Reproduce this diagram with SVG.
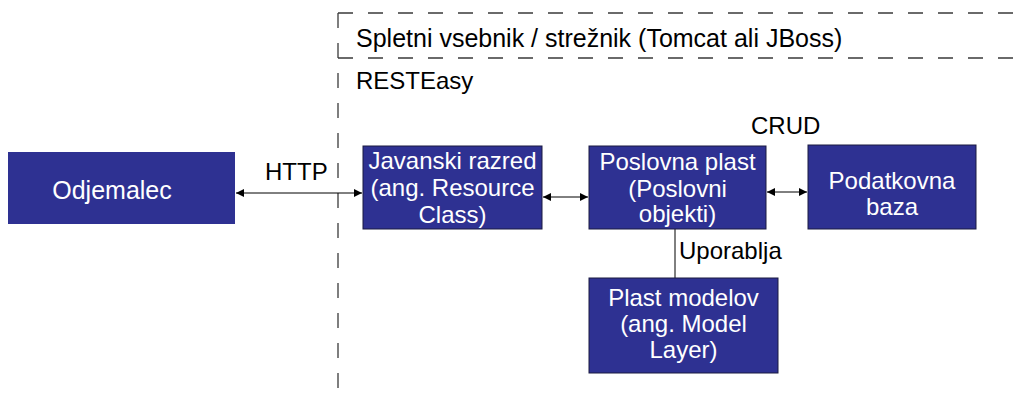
<svg xmlns="http://www.w3.org/2000/svg" width="1017" height="394" viewBox="0 0 1017 394">
  <style>
    .box { fill: #2e3192; stroke: #1a1a40; stroke-width: 1; }
    .lbl { font-family: "Liberation Sans", Arial, sans-serif; font-size: 24px; fill: #ffffff; text-anchor: middle; }
    .txt { font-family: "Liberation Sans", Arial, sans-serif; font-size: 24px; fill: #000000; }
    .dash { fill: none; stroke: #3a3a3a; stroke-width: 1.3; stroke-dasharray: 15 15; }
    .link { fill: none; stroke: #000000; stroke-width: 1; }
  </style>
  <defs>
    <marker id="head" viewBox="0 0 8 8" refX="8" refY="4" markerWidth="8" markerHeight="8" markerUnits="userSpaceOnUse" orient="auto-start-reverse">
      <path d="M0,0 L8,4 L0,8 Z" fill="#000000"/>
    </marker>
  </defs>
  <rect width="1017" height="394" fill="#ffffff"/>

  <!-- container boundaries -->
  <g id="containers">
    <path class="dash" d="M338,13 H1017"/>
    <path class="dash" d="M338,13 V394"/>
    <path class="dash" d="M338,58 H1017"/>
    <text class="txt" x="356" y="47" style="font-size:25px">Spletni vsebnik / strežnik (Tomcat ali JBoss)</text>
    <text class="txt" x="356" y="89">RESTEasy</text>
  </g>

  <!-- connectors -->
  <g id="connectors">
    <path class="link" d="M236,193 H362" marker-start="url(#head)" marker-end="url(#head)"/>
    <text class="txt" x="265" y="180">HTTP</text>
    <path class="link" d="M543,197 H588" marker-start="url(#head)" marker-end="url(#head)"/>
    <path class="link" d="M767,192 H807" marker-start="url(#head)" marker-end="url(#head)"/>
    <text class="txt" x="751" y="134">CRUD</text>
    <path class="link" d="M675,229 V278"/>
    <text class="txt" x="679" y="259">Uporablja</text>
  </g>

  <g id="odjemalec">
    <rect class="box" x="8" y="152" width="227" height="72" style="stroke:none"/>
    <text class="lbl" x="112" y="199" style="font-size:25px">Odjemalec</text>
  </g>

  <g id="javanski-razred">
    <rect class="box" x="363" y="146" width="179" height="83"/>
    <text class="lbl" x="452.5" y="169">Javanski razred</text>
    <text class="lbl" x="452.5" y="196">(ang. Resource</text>
    <text class="lbl" x="452.5" y="223">Class)</text>
  </g>

  <g id="poslovna-plast">
    <rect class="box" x="589" y="146" width="177" height="83"/>
    <text class="lbl" x="677.5" y="170">Poslovna plast</text>
    <text class="lbl" x="677.5" y="197">(Poslovni</text>
    <text class="lbl" x="677.5" y="222">objekti)</text>
  </g>

  <g id="podatkovna-baza">
    <rect class="box" x="808" y="145" width="168" height="84"/>
    <text class="lbl" x="892" y="189">Podatkovna</text>
    <text class="lbl" x="892" y="215">baza</text>
  </g>

  <g id="plast-modelov">
    <rect class="box" x="589" y="278" width="189" height="95"/>
    <text class="lbl" x="683.5" y="306">Plast modelov</text>
    <text class="lbl" x="683.5" y="332">(ang. Model</text>
    <text class="lbl" x="683.5" y="358">Layer)</text>
  </g>
</svg>
